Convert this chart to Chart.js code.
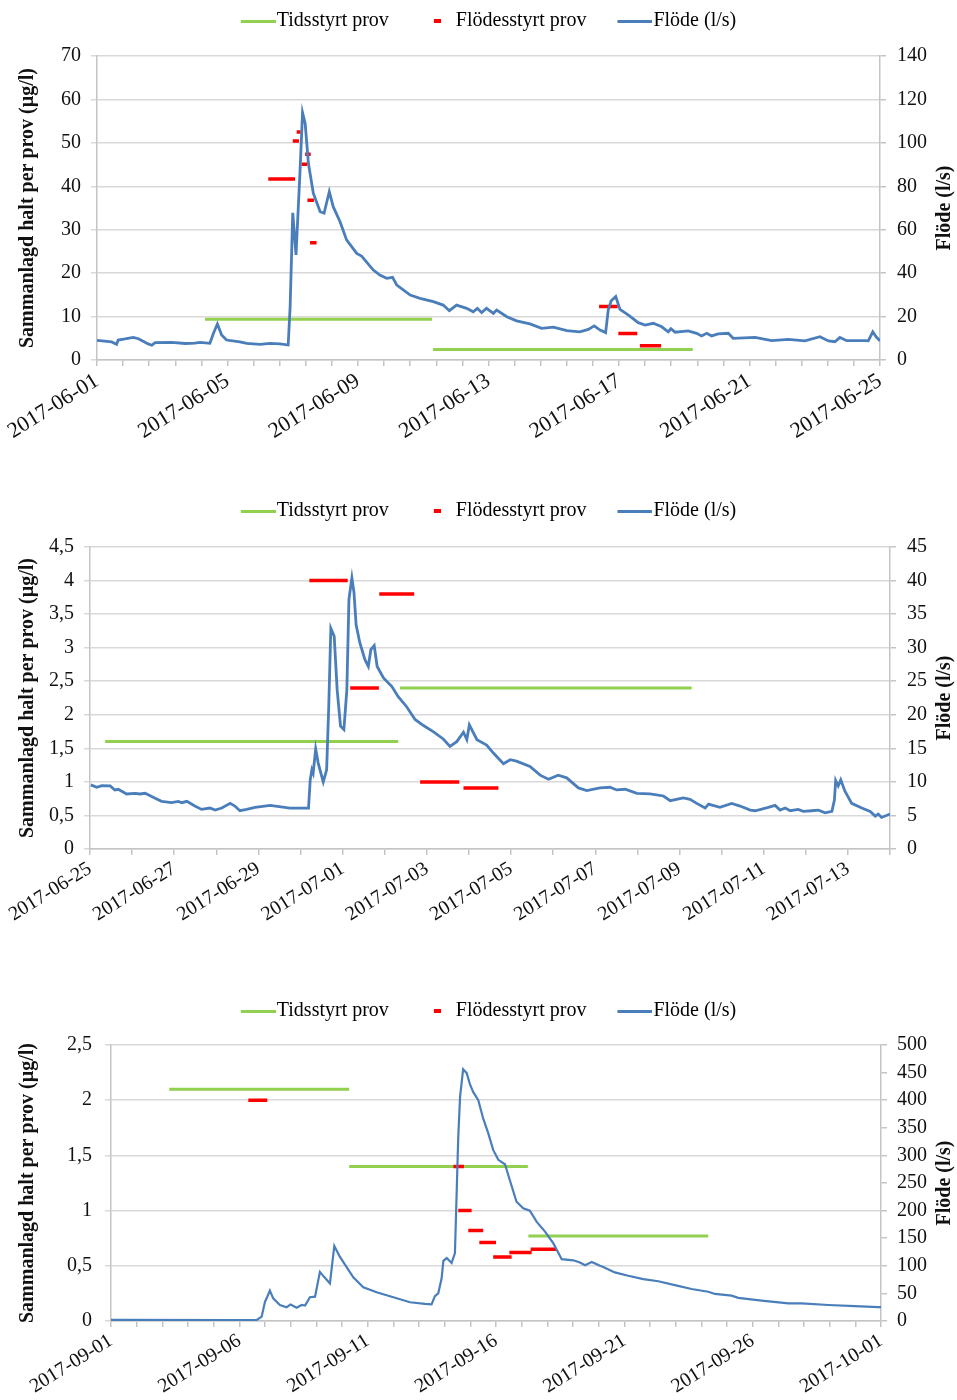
<!DOCTYPE html>
<html>
<head>
<meta charset="utf-8">
<script src="https://cdn.jsdelivr.net/npm/chart.js@4.4.1/dist/chart.umd.min.js"></script>
<style>
  body { margin: 0; background: #fff; }
  #lienzo { position: relative; width: 957px; height: 1400px; }
  canvas { position: absolute; left: 0; }
</style>
</head>
<body>
<div id="lienzo">
  <canvas id="grafico1" width="957" height="460" style="top:0px"></canvas>
  <canvas id="grafico2" width="957" height="470" style="top:490px"></canvas>
  <canvas id="grafico3" width="957" height="410" style="top:990px"></canvas>
</div>
<script>
// ---- Gráfico 1: 2017-06-01 .. 2017-06-25 (x = días desde el inicio)
const etiquetas1 = ['2017-06-01', '2017-06-05', '2017-06-09', '2017-06-13', '2017-06-17', '2017-06-21', '2017-06-25'];
const dias1 = [0, 0.45, 0.6, 0.65, 0.86, 1.11, 1.27, 1.57, 1.68, 1.78, 2.29, 2.7, 3.0, 3.16, 3.46, 3.57, 3.69, 3.82, 3.97, 4.38,
  4.59, 5.0, 5.3, 5.61, 5.86, 5.92, 6.0, 6.1, 6.22, 6.3, 6.38, 6.48, 6.63, 6.84, 6.96, 7.12, 7.24, 7.45, 7.65, 7.96,
  8.11, 8.47, 8.67, 8.88, 9.06, 9.19, 9.6, 9.9, 10.31, 10.61, 10.8, 11.02, 11.33, 11.53, 11.66, 11.79, 11.94, 12.15, 12.25, 12.56,
  12.86, 13.27, 13.63, 13.99, 14.4, 14.8, 15.06, 15.24, 15.42, 15.59, 15.67, 15.76, 15.9, 16.03, 16.29, 16.59, 16.8, 17.05, 17.31, 17.51,
  17.59, 17.72, 18.12, 18.38, 18.53, 18.69, 18.84, 19.04, 19.35, 19.5, 20.17, 20.68, 21.19, 21.7, 22.16, 22.42, 22.62, 22.77, 22.98, 23.54,
  23.64, 23.78, 23.88, 24.0];
const flode1 = [9.0, 8.3, 7.2, 9.2, 9.7, 10.4, 9.8, 7.4, 6.8, 8.0, 8.1, 7.6, 7.8, 8.1, 7.7, 12.3, 16.6, 11.5, 9.2, 8.4,
  7.7, 7.2, 7.7, 7.4, 6.9, 24.6, 67.8, 48.4, 86, 113.9, 109, 90.6, 76.8, 68.3, 67.6, 77.5, 70.6, 63.7, 55.3, 49.1,
  47.9, 41.4, 39.1, 37.6, 38.1, 34.5, 29.9, 28.4, 26.9, 25.3, 22.7, 25.3, 23.8, 22.2, 23.8, 21.8, 23.8, 21.5, 23.0, 19.9,
  18.0, 16.6, 14.6, 15.1, 13.5, 13.0, 14.1, 15.7, 13.8, 12.6, 23.0, 27.3, 29.2, 23.3, 20.7, 17.2, 16.1, 16.9, 15.3, 13.0,
  14.4, 12.8, 13.4, 12.3, 11.1, 12.3, 11.1, 12.0, 12.3, 10.0, 10.4, 8.9, 9.5, 8.8, 10.7, 8.8, 8.4, 10.4, 8.9, 8.9,
  8.8, 13.0, 10.7, 8.8];
const tidStart1 = [3.31, 10.3];
const tidSlut1 = [10.27, 18.26];
const tidHalt1 = [9.4, 2.4];
const flodStart1 = [5.25, 6.0, 6.12, 6.27, 6.38, 6.45, 6.53, 15.39, 15.98, 16.64];
const flodSlut1 = [6.07, 6.19, 6.24, 6.44, 6.55, 6.65, 6.73, 15.96, 16.56, 17.29];
const flodHalt1 = [41.7, 50.4, 52.5, 45.1, 47.4, 36.8, 27.0, 12.3, 6.1, 3.3];

// ---- Gráfico 2: 2017-06-25 .. 2017-07-14
const etiquetas2 = ['2017-06-25', '2017-06-27', '2017-06-29', '2017-07-01', '2017-07-03', '2017-07-05', '2017-07-07', '2017-07-09', '2017-07-11', '2017-07-13'];
const dias2 = [0.02, 0.16, 0.28, 0.48, 0.59, 0.67, 0.87, 1.07, 1.19, 1.31, 1.5, 1.7, 1.94, 2.1, 2.18, 2.3, 2.49, 2.65, 2.85, 2.97,
  3.13, 3.33, 3.44, 3.56, 3.72, 3.92, 4.28, 4.75, 5.19, 5.23, 5.27, 5.3, 5.36, 5.42, 5.54, 5.62, 5.67, 5.72, 5.8, 5.87,
  5.95, 6.03, 6.1, 6.15, 6.22, 6.27, 6.32, 6.41, 6.53, 6.61, 6.67, 6.75, 6.82, 6.97, 7.17, 7.32, 7.52, 7.72, 7.92, 8.15,
  8.39, 8.55, 8.71, 8.87, 8.95, 9.01, 9.19, 9.42, 9.58, 9.82, 9.98, 10.13, 10.45, 10.69, 10.89, 11.12, 11.32, 11.6, 11.8, 12.11,
  12.35, 12.51, 12.71, 12.99, 13.3, 13.62, 13.78, 14.09, 14.25, 14.41, 14.61, 14.69, 14.96, 15.24, 15.44, 15.68, 15.8, 16.11, 16.27, 16.39,
  16.51, 16.63, 16.82, 16.94, 17.14, 17.3, 17.46, 17.62, 17.68, 17.71, 17.77, 17.83, 17.93, 18.09, 18.33, 18.53, 18.65, 18.72, 18.8, 19.0];
const flode2 = [9.55, 9.2, 9.45, 9.4, 8.8, 8.9, 8.2, 8.3, 8.2, 8.3, 7.7, 7.1, 6.9, 7.1, 6.9, 7.1, 6.4, 5.9, 6.1, 5.8,
  6.1, 6.8, 6.4, 5.7, 5.9, 6.2, 6.5, 6.1, 6.1, 10.3, 11.8, 11.3, 14.9, 12.8, 10.0, 11.8, 21.2, 32.9, 31.7, 23.7,
  18.3, 17.8, 23.7, 37.2, 40.4, 38.2, 33.4, 30.7, 28.2, 27.2, 29.7, 30.3, 27.2, 25.5, 24.2, 22.7, 21.2, 19.3, 18.4, 17.5,
  16.4, 15.3, 16.0, 17.4, 16.3, 18.5, 16.3, 15.5, 14.3, 12.7, 13.3, 13.1, 12.3, 11.0, 10.4, 11.0, 10.6, 9.1, 8.7, 9.1,
  9.2, 8.8, 8.9, 8.3, 8.2, 7.9, 7.2, 7.6, 7.4, 6.8, 6.1, 6.7, 6.2, 6.8, 6.4, 5.8, 5.7, 6.2, 6.5, 5.8,
  6.1, 5.7, 5.9, 5.6, 5.7, 5.8, 5.4, 5.6, 7.3, 10.2, 9.4, 10.3, 8.6, 6.8, 6.1, 5.6, 4.9, 5.2, 4.7, 5.2];
const tidStart2 = [0.36, 7.36];
const tidSlut2 = [7.32, 14.29];
const tidHalt2 = [1.6, 2.4];
const flodStart2 = [5.21, 6.18, 6.87, 7.84, 8.87];
const flodSlut2 = [6.12, 6.86, 7.7, 8.77, 9.7];
const flodHalt2 = [4.0, 2.4, 3.8, 1.0, 0.91];

// ---- Gráfico 3: 2017-09-01 .. 2017-10-01
const etiquetas3 = ['2017-09-01', '2017-09-06', '2017-09-11', '2017-09-16', '2017-09-21', '2017-09-26', '2017-10-01'];
const dias3 = [0, 4.77, 5.68, 5.87, 6.0, 6.09, 6.19, 6.32, 6.58, 6.84, 7.0, 7.23, 7.43, 7.56, 7.75, 7.95, 8.14, 8.3, 8.53, 8.7,
  8.92, 9.44, 9.83, 10.35, 11.0, 11.65, 12.23, 12.49, 12.62, 12.75, 12.88, 12.95, 13.08, 13.27, 13.4, 13.47, 13.53, 13.6, 13.72, 13.86,
  13.99, 14.11, 14.31, 14.5, 14.7, 14.89, 15.09, 15.35, 15.54, 15.8, 16.06, 16.32, 16.58, 16.91, 17.23, 17.56, 18.01, 18.27, 18.47, 18.73,
  19.05, 19.18, 19.63, 20.15, 20.74, 21.32, 21.97, 22.62, 23.27, 23.53, 24.18, 24.44, 25.35, 26.39, 26.91, 27.95, 28.98, 29.89, 30];
const flode3 = [2, 1.5, 2, 7.8, 35, 44, 55, 41, 29, 25, 30, 24, 29, 28, 43, 44, 89, 80, 68, 136,
  116, 79, 61, 52, 43, 34, 31, 30, 45, 50, 77, 109, 114, 105, 123, 237, 334, 406, 456, 449,
  428, 415, 400, 367, 340, 310, 292, 284, 255, 216, 204, 200, 180, 162, 141, 112, 110, 106, 101, 107,
  100, 98, 88, 82, 76, 72, 65, 58, 53, 49, 46, 42, 37, 32, 32, 29, 27, 25, 25];
const tidStart3 = [2.27, 9.28, 16.26];
const tidSlut3 = [9.28, 16.24, 23.27];
const tidHalt3 = [2.1, 1.4, 0.77];
const flodStart3 = [5.35, 13.34, 13.53, 13.92, 14.35, 14.89, 15.52, 16.35];
const flodSlut3 = [6.09, 13.75, 14.05, 14.5, 15.0, 15.61, 16.39, 17.34];
const flodHalt3 = [2.0, 1.4, 1.0, 0.82, 0.71, 0.58, 0.62, 0.65];

const AZUL = '#4a7ebb';
const VERDE = '#92d050';
const ROJO = '#ff0000';
const REJILLA = '#d9d9d9';
const EJE = '#c4c4c4';
const TEXTO = '#111111';
const FUENTE = '"Liberation Serif", "Times New Roman", serif';

function serie(xs, ys) {
  return xs.map((x, i) => ({ x: x, y: ys[i] }));
}

// cada muestra es un tramo horizontal, separado del siguiente con un hueco
function tramos(inicio, fin, valores) {
  const puntos = [];
  inicio.forEach((x0, i) => {
    puntos.push({ x: x0, y: valores[i] }, { x: fin[i], y: valores[i] }, { x: fin[i], y: null });
  });
  return puntos;
}

// imagen para la leyenda: el trazo va pegado al borde derecho, junto al texto
function marcaLeyenda(color, ancho, largoTrazo, alto) {
  const c = document.createElement('canvas');
  c.width = ancho;
  c.height = alto;
  const g = c.getContext('2d');
  g.fillStyle = color;
  g.fillRect(ancho - largoTrazo, 0, largoTrazo, alto);
  return c;
}

const coma = (v) => String(v).replace('.', ',');

function fijarLeyenda(alto) {
  return {
    id: 'fijarLeyenda',
    afterInit(chart) {
      const leyenda = chart.legend;
      if (!leyenda) return;
      const fitOriginal = leyenda.fit;
      leyenda.fit = function () {
        fitOriginal.call(this);
        this.height = alto; // el área del gráfico empieza justo aquí
      };
    }
  };
}

// Excel pone el título del eje secundario leyendo de abajo hacia arriba
const tituloDerecho = {
  id: 'tituloDerecho',
  afterDraw(chart) {
    const { ctx, chartArea } = chart;
    ctx.save();
    ctx.translate(chart.width - 12, (chartArea.top + chartArea.bottom) / 2);
    ctx.rotate(-Math.PI / 2);
    ctx.font = 'bold 20px ' + FUENTE;
    ctx.fillStyle = TEXTO;
    ctx.textAlign = 'center';
    ctx.textBaseline = 'middle';
    ctx.fillText('Flöde (l/s)', 0, 0);
    ctx.restore();
  }
};

function crearGrafico(canvas, cfg) {
  const marcas = {
    tid: marcaLeyenda(VERDE, 64, 35, 3),
    flod: marcaLeyenda(ROJO, 36, 7, 4),
    flode: marcaLeyenda(AZUL, 64, 35, 3)
  };

  new Chart(canvas, {
    type: 'line',
    data: {
      datasets: [
        {
          label: 'Flöde (l/s)',
          data: serie(cfg.dias, cfg.flode),
          yAxisID: 'y1',
          borderColor: AZUL,
          borderWidth: cfg.anchoAzul,
          pointRadius: 0,
          tension: 0
        },
        {
          label: 'Flödesstyrt prov',
          data: tramos(cfg.flodStart, cfg.flodSlut, cfg.flodHalt),
          yAxisID: 'y',
          borderColor: ROJO,
          borderWidth: 3.5,
          pointRadius: 0,
          spanGaps: false
        },
        {
          label: 'Tidsstyrt prov',
          data: tramos(cfg.tidStart, cfg.tidSlut, cfg.tidHalt),
          yAxisID: 'y',
          borderColor: VERDE,
          borderWidth: 3,
          pointRadius: 0,
          spanGaps: false
        }
      ]
    },
    options: {
      responsive: false,
      animation: false,
      events: [],
      layout: { padding: 0 },
      scales: {
        x: {
          type: 'linear',
          min: 0,
          max: cfg.maxX,
          ticks: {
            stepSize: cfg.pasoX,
            autoSkip: false,
            minRotation: 32,
            maxRotation: 32,
            padding: 2,
            color: TEXTO,
            font: { family: FUENTE, size: cfg.letraFechas },
            callback: (v, i) => (i % cfg.cadaX === 0 ? cfg.etiquetas[i / cfg.cadaX] : '')
          },
          grid: { drawOnChartArea: false, drawTicks: true, tickLength: 6, color: EJE, lineWidth: 1.5 },
          border: { color: EJE, width: 1.5 },
          afterFit: (s) => { s.height = cfg.altoX; }
        },
        y: {
          position: 'left',
          min: 0,
          max: cfg.yMax,
          ticks: {
            stepSize: cfg.yPaso,
            padding: cfg.padIzq,
            color: TEXTO,
            font: { family: FUENTE, size: 20 },
            callback: coma
          },
          grid: { color: REJILLA, lineWidth: 1.5, tickLength: 6 },
          border: { color: EJE, width: 1.5 },
          title: {
            display: true,
            text: 'Sammanlagd halt per prov (µg/l)',
            color: TEXTO,
            font: { family: FUENTE, size: 20, weight: 'bold' },
            padding: { top: 16, bottom: 0 }
          },
          afterFit: (s) => { s.width = cfg.anchoIzq; }
        },
        y1: {
          position: 'right',
          min: 0,
          max: cfg.y1Max,
          ticks: {
            stepSize: cfg.y1Paso,
            padding: cfg.padDer,
            color: TEXTO,
            font: { family: FUENTE, size: 20 }
          },
          grid: { drawOnChartArea: false, tickLength: 6, color: EJE, lineWidth: 1.5 },
          border: { color: EJE, width: 1.5 },
          afterFit: (s) => { s.width = cfg.anchoDer; }
        }
      },
      plugins: {
        tooltip: { enabled: false },
        legend: {
          position: 'top',
          labels: {
            usePointStyle: true,
            pointStyleWidth: 46,
            padding: 11,
            color: TEXTO,
            font: { family: FUENTE, size: 20 },
            generateLabels: () => [
              { text: 'Tidsstyrt prov', pointStyle: marcas.tid, fillStyle: VERDE, strokeStyle: VERDE, lineWidth: 0, hidden: false, datasetIndex: 2, rotation: 0 },
              { text: 'Flödesstyrt prov', pointStyle: marcas.flod, fillStyle: ROJO, strokeStyle: ROJO, lineWidth: 0, hidden: false, datasetIndex: 1, rotation: 0 },
              { text: 'Flöde (l/s)', pointStyle: marcas.flode, fillStyle: AZUL, strokeStyle: AZUL, lineWidth: 0, hidden: false, datasetIndex: 0, rotation: 0 }
            ]
          }
        }
      }
    },
    plugins: [fijarLeyenda(cfg.altoLeyenda), tituloDerecho]
  });
}

crearGrafico(document.getElementById('grafico1'), {
  etiquetas: etiquetas1, cadaX: 5, pasoX: 0.8, maxX: 24, letraFechas: 22,
  dias: dias1, flode: flode1,
  tidStart: tidStart1, tidSlut: tidSlut1, tidHalt: tidHalt1,
  flodStart: flodStart1, flodSlut: flodSlut1, flodHalt: flodHalt1,
  yMax: 70, yPaso: 10, y1Max: 140, y1Paso: 20,
  anchoIzq: 97, anchoDer: 77, padIzq: 10, padDer: 11,
  altoLeyenda: 56, altoX: 100, anchoAzul: 2.8
});

crearGrafico(document.getElementById('grafico2'), {
  etiquetas: etiquetas2, cadaX: 2, pasoX: 1, maxX: 19, letraFechas: 20,
  dias: dias2, flode: flode2,
  tidStart: tidStart2, tidSlut: tidSlut2, tidHalt: tidHalt2,
  flodStart: flodStart2, flodSlut: flodSlut2, flodHalt: flodHalt2,
  yMax: 4.5, yPaso: 0.5, y1Max: 45, y1Paso: 5,
  anchoIzq: 90, anchoDer: 67, padIzq: 10, padDer: 11,
  altoLeyenda: 57, altoX: 111, anchoAzul: 2.8
});

crearGrafico(document.getElementById('grafico3'), {
  etiquetas: etiquetas3, cadaX: 5, pasoX: 1, maxX: 30, letraFechas: 20,
  dias: dias3, flode: flode3,
  tidStart: tidStart3, tidSlut: tidSlut3, tidHalt: tidHalt3,
  flodStart: flodStart3, flodSlut: flodSlut3, flodHalt: flodHalt3,
  yMax: 2.5, yPaso: 0.5, y1Max: 500, y1Paso: 50,
  anchoIzq: 111, anchoDer: 76, padIzq: 13, padDer: 10,
  altoLeyenda: 55, altoX: 79, anchoAzul: 2.2
});
</script>
</body>
</html>
